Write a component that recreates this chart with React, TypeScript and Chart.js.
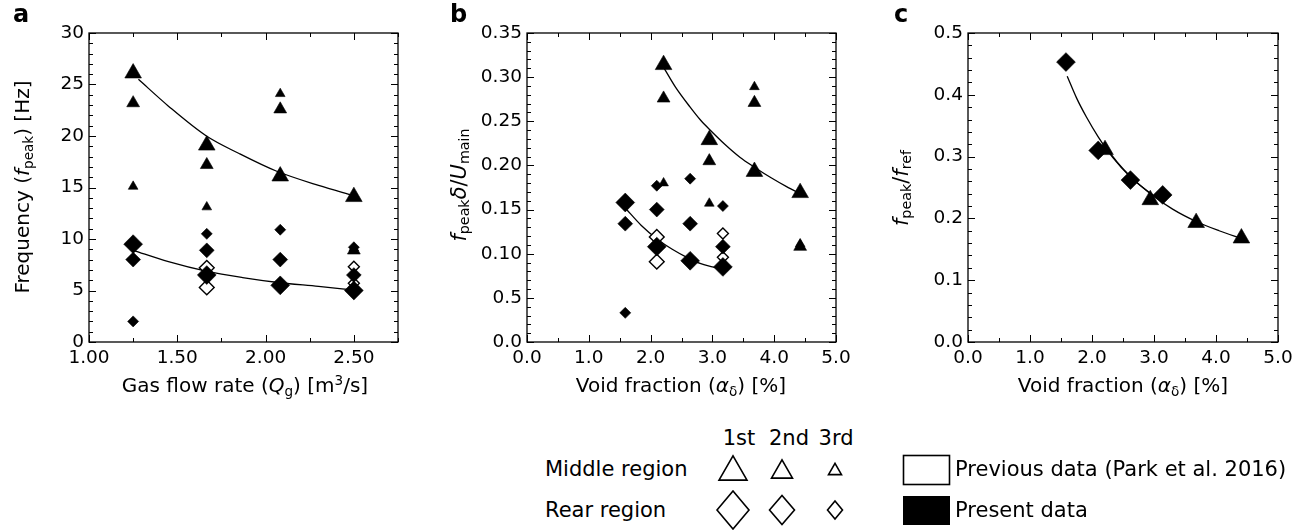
import React, { useEffect, useRef } from "react";
import { Chart, registerables } from "chart.js";

Chart.register(...registerables);

const FONT = "'DejaVu Sans', 'Liberation Sans', Arial, sans-serif";

// ---------------- Panel a : frequency vs gas flow rate ----------------
const aQg = [1.25, 1.667, 2.083, 2.5];
const aMid1st = [26.1, 19.1, 16.1, 14.1];
const aMid2nd = [23.2, 17.2, 22.6, 8.9];
const aMid3rd = [15.1, 13.1, 24.1, 9.1];
const aRear1st = [9.5, 6.5, 5.5, 5.0];
const aRear2nd = [8.0, 8.9, 8.0, 6.5];
const aRear3rd = [2.0, 10.5, 10.9, 9.2];
const aPrevQg2nd = [1.667, 1.667];
const aPrev2nd = [7.2, 5.3];
const aPrevQg3rd = [2.5, 2.5];
const aPrev3rd = [7.3, 5.7];
const aFitMidQg = [1.28, 1.45, 1.665, 1.85, 2.06, 2.3, 2.5];
const aFitMid = [25.5, 22.9, 20.0, 18.3, 16.6, 15.2, 14.2];
const aFitRearQg = [1.25, 1.45, 1.67, 1.87, 2.06, 2.3, 2.5];
const aFitRear = [8.9, 7.8, 6.85, 6.25, 5.8, 5.4, 5.05];
const aXTicks = [1.0, 1.5, 2.0, 2.5];
const aXTickLabels = ["1.00", "1.50", "2.00", "2.50"];
const aYTicks = [0, 5, 10, 15, 20, 25, 30];
const aYTickLabels = ["0", "5", "10", "15", "20", "25", "30"];

// ---------------- Panel b : f_peak δ / U_main vs void fraction ----------------
const bRearAlpha = [1.59, 2.1, 2.64, 3.17];
const bRear1st = [0.158, 0.108, 0.092, 0.085];
const bRear2nd = [0.134, 0.15, 0.134, 0.108];
const bRear3rd = [0.033, 0.177, 0.185, 0.154];
const bMidAlpha = [2.21, 2.95, 3.68, 4.42];
const bMid1st = [0.314, 0.229, 0.193, 0.169];
const bMid2nd = [0.276, 0.205, 0.271, 0.108];
const bMid3rd = [0.18, 0.157, 0.289, 0.111];
const bPrevAlpha2nd = [2.1, 2.1];
const bPrev2nd = [0.119, 0.091];
const bPrevAlpha3rd = [3.17, 3.17];
const bPrev3rd = [0.123, 0.096];
const bFitMidAlpha = [2.22, 2.4, 2.64, 2.8, 2.95, 3.2, 3.45, 3.68, 3.95, 4.2, 4.42];
const bFitMid = [0.31, 0.289, 0.266, 0.252, 0.241, 0.224, 0.209, 0.198, 0.186, 0.176, 0.168];
const bFitRearAlpha = [1.6, 1.85, 2.1, 2.35, 2.61, 2.8, 3.0, 3.17];
const bFitRear = [0.151, 0.132, 0.117, 0.105, 0.095, 0.089, 0.085, 0.082];
const bXTicks = [0, 1, 2, 3, 4, 5];
const bXTickLabels = ["0.0", "1.0", "2.0", "3.0", "4.0", "5.0"];
const bYTicks = [0, 0.05, 0.1, 0.15, 0.2, 0.25, 0.3, 0.35];
const bYTickLabels = ["0.0", "0.5", "0.10", "0.15", "0.20", "0.25", "0.30", "0.35"];

// ---------------- Panel c : f_peak / f_ref vs void fraction ----------------
const cRearAlpha = [1.58, 2.1, 2.62, 3.14];
const cRear1st = [0.453, 0.31, 0.262, 0.238];
const cMidAlpha = [2.21, 2.94, 3.68, 4.41];
const cMid1st = [0.311, 0.23, 0.193, 0.168];
const cFitRearAlpha = [1.6, 1.75, 1.91, 2.1, 2.34, 2.62, 2.9, 3.14];
const cFitRear = [0.43, 0.395, 0.364, 0.332, 0.298, 0.267, 0.244, 0.228];
const cFitMidAlpha = [2.2, 2.4, 2.62, 2.94, 3.3, 3.68, 4.05, 4.42];
const cFitMid = [0.318, 0.292, 0.268, 0.24, 0.215, 0.195, 0.18, 0.167];
const cXTicks = [0, 1, 2, 3, 4, 5];
const cXTickLabels = ["0.0", "1.0", "2.0", "3.0", "4.0", "5.0"];
const cYTicks = [0, 0.1, 0.2, 0.3, 0.4, 0.5];
const cYTickLabels = ["0.0", "0.1", "0.2", "0.3", "0.4", "0.5"];

// ---------------- legend texts ----------------
const legendColumns = ["1st", "2nd", "3rd"];
const legendRows = ["Middle region", "Rear region"];
const legendSources = ["Previous data (Park et al. 2016)", "Present data"];

// ---------------- marker styling ----------------
const TRI_R = [9.6, 7.4, 5.6];
const DIA_R = [9.4, 7.4, 5.5];

function pts(xs: number[], ys: number[]) {
  return xs.map((x, i) => ({ x, y: ys[i] }));
}

function markers(xs: number[], ys: number[], style: string, r: number, filled: boolean) {
  return {
    data: pts(xs, ys),
    showLine: false,
    pointStyle: style,
    pointRadius: r,
    pointHoverRadius: r,
    pointBackgroundColor: filled ? "#000" : "#fff",
    pointBorderColor: "#000",
    pointBorderWidth: filled ? 0.6 : 1.4,
  };
}

function fit(xs: number[], ys: number[]) {
  return {
    data: pts(xs, ys),
    showLine: true,
    pointRadius: 0,
    pointHoverRadius: 0,
    borderColor: "#000",
    borderWidth: 1.3,
    tension: 0.4,
    cubicInterpolationMode: "monotone",
    fill: false,
  };
}

const frameTicks = {
  id: "frameTicks",
  afterDraw(chart: any, _args: any, opts: any) {
    const { ctx, chartArea } = chart;
    const { left, right, top, bottom } = chartArea;
    const xs = chart.scales.x;
    const ys = chart.scales.y;
    ctx.save();
    ctx.strokeStyle = "#000";
    ctx.lineWidth = 1;
    const seg = (x1: number, y1: number, x2: number, y2: number) => {
      ctx.beginPath();
      ctx.moveTo(x1, y1);
      ctx.lineTo(x2, y2);
      ctx.stroke();
    };
    const isMajor = (list: number[], v: number) => list.some((m) => Math.abs(m - v) < 1e-7);
    const nx = Math.round((xs.max - xs.min) / opts.xMinor);
    for (let i = 0; i <= nx; i++) {
      const v = xs.min + i * opts.xMinor;
      const len = isMajor(opts.xMajor, v) ? 7 : 4;
      const px = Math.round(xs.getPixelForValue(v)) + 0.5;
      seg(px, bottom, px, bottom - len);
      seg(px, top, px, top + len);
    }
    const ny = Math.round((ys.max - ys.min) / opts.yMinor);
    for (let i = 0; i <= ny; i++) {
      const v = ys.min + i * opts.yMinor;
      const len = isMajor(opts.yMajor, v) ? 7 : 4;
      const py = Math.round(ys.getPixelForValue(v)) + 0.5;
      seg(left, py, left + len, py);
      seg(right, py, right - len, py);
    }
    ctx.lineWidth = 1.3;
    ctx.strokeRect(left, top, right - left, bottom - top);
    ctx.restore();
  },
};

interface PanelSpec {
  datasets: any[];
  xMin: number;
  xMax: number;
  yMin: number;
  yMax: number;
  xTicks: number[];
  xLabels: string[];
  yTicks: number[];
  yLabels: string[];
  xMinor: number;
  yMinor: number;
  yAxisW: number;
  xAxisH: number;
  padTop: number;
  padRight: number;
}

function buildConfig(p: PanelSpec): any {
  const tickFont = { family: FONT, size: 18.5 };
  return {
    type: "scatter",
    data: { datasets: p.datasets },
    plugins: [frameTicks],
    options: {
      animation: false,
      responsive: false,
      maintainAspectRatio: false,
      events: [],
      layout: { padding: { left: 0, top: p.padTop, right: p.padRight, bottom: 0 } },
      plugins: {
        legend: { display: false },
        tooltip: { enabled: false },
        frameTicks: { xMajor: p.xTicks, yMajor: p.yTicks, xMinor: p.xMinor, yMinor: p.yMinor },
      },
      scales: {
        x: {
          type: "linear",
          min: p.xMin,
          max: p.xMax,
          grid: { display: false, drawTicks: false },
          border: { display: false },
          ticks: {
            font: tickFont,
            color: "#000",
            padding: 5,
            autoSkip: false,
            maxRotation: 0,
            callback: (_v: any, i: number) => p.xLabels[i],
          },
          afterBuildTicks: (s: any) => {
            s.ticks = p.xTicks.map((v) => ({ value: v }));
          },
          afterFit: (s: any) => {
            s.height = p.xAxisH;
          },
        },
        y: {
          type: "linear",
          min: p.yMin,
          max: p.yMax,
          grid: { display: false, drawTicks: false },
          border: { display: false },
          ticks: {
            font: tickFont,
            color: "#000",
            padding: 5,
            autoSkip: false,
            callback: (_v: any, i: number) => p.yLabels[i],
          },
          afterBuildTicks: (s: any) => {
            s.ticks = p.yTicks.map((v) => ({ value: v }));
          },
          afterFit: (s: any) => {
            s.width = p.yAxisW;
          },
        },
      },
    },
  };
}

const panelA: PanelSpec = {
  datasets: [
    markers(aQg, aMid1st, "triangle", TRI_R[0], true),
    markers(aQg, aMid2nd, "triangle", TRI_R[1], true),
    markers(aQg, aMid3rd, "triangle", TRI_R[2], true),
    markers(aQg, aRear1st, "rectRot", DIA_R[0], true),
    markers(aQg, aRear2nd, "rectRot", DIA_R[1], true),
    markers(aQg, aRear3rd, "rectRot", DIA_R[2], true),
    markers(aPrevQg2nd, aPrev2nd, "rectRot", DIA_R[1], false),
    markers(aPrevQg3rd, aPrev3rd, "rectRot", DIA_R[2], false),
    fit(aFitMidQg, aFitMid),
    fit(aFitRearQg, aFitRear),
  ],
  xMin: 1.0,
  xMax: 2.75,
  yMin: 0,
  yMax: 30,
  xTicks: aXTicks,
  xLabels: aXTickLabels,
  yTicks: aYTicks,
  yLabels: aYTickLabels,
  xMinor: 0.25,
  yMinor: 1,
  yAxisW: 89,
  xAxisH: 58,
  padTop: 33,
  padRight: 32,
};

const panelB: PanelSpec = {
  datasets: [
    markers(bMidAlpha, bMid1st, "triangle", TRI_R[0], true),
    markers(bMidAlpha, bMid2nd, "triangle", TRI_R[1], true),
    markers(bMidAlpha, bMid3rd, "triangle", TRI_R[2], true),
    markers(bRearAlpha, bRear1st, "rectRot", DIA_R[0], true),
    markers(bRearAlpha, bRear2nd, "rectRot", DIA_R[1], true),
    markers(bRearAlpha, bRear3rd, "rectRot", DIA_R[2], true),
    markers(bPrevAlpha2nd, bPrev2nd, "rectRot", DIA_R[1], false),
    markers(bPrevAlpha3rd, bPrev3rd, "rectRot", DIA_R[2], false),
    fit(bFitMidAlpha, bFitMid),
    fit(bFitRearAlpha, bFitRear),
  ],
  xMin: 0,
  xMax: 5,
  yMin: 0,
  yMax: 0.35,
  xTicks: bXTicks,
  xLabels: bXTickLabels,
  yTicks: bYTicks,
  yLabels: bYTickLabels,
  xMinor: 0.5,
  yMinor: 0.01,
  yAxisW: 97,
  xAxisH: 58,
  padTop: 33,
  padRight: 34,
};

const panelC: PanelSpec = {
  datasets: [
    markers(cRearAlpha, cRear1st, "rectRot", DIA_R[0], true),
    markers(cMidAlpha, cMid1st, "triangle", TRI_R[0], true),
    fit(cFitRearAlpha, cFitRear),
    fit(cFitMidAlpha, cFitMid),
  ],
  xMin: 0,
  xMax: 5,
  yMin: 0,
  yMax: 0.5,
  xTicks: cXTicks,
  xLabels: cXTickLabels,
  yTicks: cYTicks,
  yLabels: cYTickLabels,
  xMinor: 0.5,
  yMinor: 0.02,
  yAxisW: 108,
  xAxisH: 58,
  padTop: 33,
  padRight: 24,
};

function ChartCanvas(props: { left: number; width: number; height: number; spec: PanelSpec }) {
  const ref = useRef<HTMLCanvasElement | null>(null);
  useEffect(() => {
    if (!ref.current) return;
    const chart = new Chart(ref.current, buildConfig(props.spec));
    return () => chart.destroy();
  }, []);
  return (
    <canvas
      ref={ref}
      width={props.width}
      height={props.height}
      style={{ position: "absolute", left: props.left, top: 0, width: props.width, height: props.height }}
    />
  );
}

const textBase: React.CSSProperties = {
  position: "absolute",
  fontFamily: FONT,
  color: "#000",
  whiteSpace: "nowrap",
  lineHeight: 1,
};
const subStyle: React.CSSProperties = { fontSize: "0.68em", verticalAlign: "-0.28em", lineHeight: 0 };
const supStyle: React.CSSProperties = { fontSize: "0.68em", verticalAlign: "0.5em", lineHeight: 0 };

function XTitle(props: { cx: number; cy: number; children: React.ReactNode }) {
  return (
    <div style={{ ...textBase, fontSize: 20, left: props.cx, top: props.cy, transform: "translate(-50%, -50%)" }}>
      {props.children}
    </div>
  );
}

function YTitle(props: { cx: number; cy: number; size?: number; children: React.ReactNode }) {
  return (
    <div
      style={{
        ...textBase,
        fontSize: props.size || 20,
        left: props.cx,
        top: props.cy,
        transform: "translate(-50%, -50%) rotate(-90deg)",
      }}
    >
      {props.children}
    </div>
  );
}

function PanelLabel(props: { x: number; y: number; text: string }) {
  return (
    <div style={{ ...textBase, fontSize: 24, fontWeight: "bold", left: props.x, top: props.y }}>{props.text}</div>
  );
}

function Legend() {
  const LS = 21;
  const lt = (x: number, y: number, s: string) => (
    <div style={{ ...textBase, fontSize: LS, left: x, top: y, transform: "translateY(-50%)" }}>{s}</div>
  );
  const ct = (x: number, y: number, s: string) => (
    <div style={{ ...textBase, fontSize: LS, left: x, top: y, transform: "translate(-50%, -50%)" }}>{s}</div>
  );
  const tri = (cx: number, cy: number, w: number) => {
    const h = w * 0.866;
    return (
      <polygon
        points={`${cx - w / 2},${cy + h / 2} ${cx + w / 2},${cy + h / 2} ${cx},${cy - h / 2}`}
        fill="#fff"
        stroke="#000"
        strokeWidth={1.6}
      />
    );
  };
  const dia = (cx: number, cy: number, w: number, h: number) => (
    <polygon
      points={`${cx - w / 2},${cy} ${cx},${cy - h / 2} ${cx + w / 2},${cy} ${cx},${cy + h / 2}`}
      fill="#fff"
      stroke="#000"
      strokeWidth={1.6}
    />
  );
  return (
    <>
      {ct(739, 438, legendColumns[0])}
      {ct(789, 438, legendColumns[1])}
      {ct(836, 438, legendColumns[2])}
      {lt(545, 469, legendRows[0])}
      {lt(545, 510, legendRows[1])}
      <svg width={1302} height={530} style={{ position: "absolute", left: 0, top: 0 }}>
        {tri(733, 468, 28)}
        {tri(782, 469, 21)}
        {tri(835, 469, 13)}
        {dia(733, 510, 32, 38)}
        {dia(782, 510, 25, 29)}
        {dia(835, 510, 15, 18)}
        <rect x={903.5} y={455.5} width={46} height={29} fill="#fff" stroke="#000" strokeWidth={1.6} />
        <rect x={903} y={496} width={47} height={29} fill="#000" />
      </svg>
      {lt(955, 469, legendSources[0])}
      {lt(955, 510, legendSources[1])}
    </>
  );
}

export default function App() {
  return (
    <div style={{ position: "absolute", left: 0, top: 0, width: 1302, height: 530, background: "#fff", overflow: "hidden" }}>
      <ChartCanvas left={0} width={430} height={400} spec={panelA} />
      <ChartCanvas left={430} width={440} height={400} spec={panelB} />
      <ChartCanvas left={860} width={442} height={400} spec={panelC} />

      <PanelLabel x={13} y={2} text="a" />
      <PanelLabel x={450} y={2} text="b" />
      <PanelLabel x={894} y={2} text="c" />

      <YTitle cx={22} cy={187}>
        Frequency (<i>f</i>
        <span style={subStyle}>peak</span>) [Hz]
      </YTitle>
      <XTitle cx={245} cy={385}>
        Gas flow rate (<i>Q</i>
        <span style={subStyle}>g</span>) [m<span style={supStyle}>3</span>/s]
      </XTitle>

      <YTitle cx={459} cy={185} size={21}>
        <i>f</i>
        <span style={subStyle}>peak</span>
        <i>δ</i>/<i>U</i>
        <span style={subStyle}>main</span>
      </YTitle>
      <XTitle cx={681} cy={385}>
        Void fraction (<i>α</i>
        <span style={subStyle}>δ</span>) [%]
      </XTitle>

      <YTitle cx={901} cy={188} size={21}>
        <i>f</i>
        <span style={subStyle}>peak</span>/<i>f</i>
        <span style={subStyle}>ref</span>
      </YTitle>
      <XTitle cx={1123} cy={385}>
        Void fraction (<i>α</i>
        <span style={subStyle}>δ</span>) [%]
      </XTitle>

      <Legend />
    </div>
  );
}
